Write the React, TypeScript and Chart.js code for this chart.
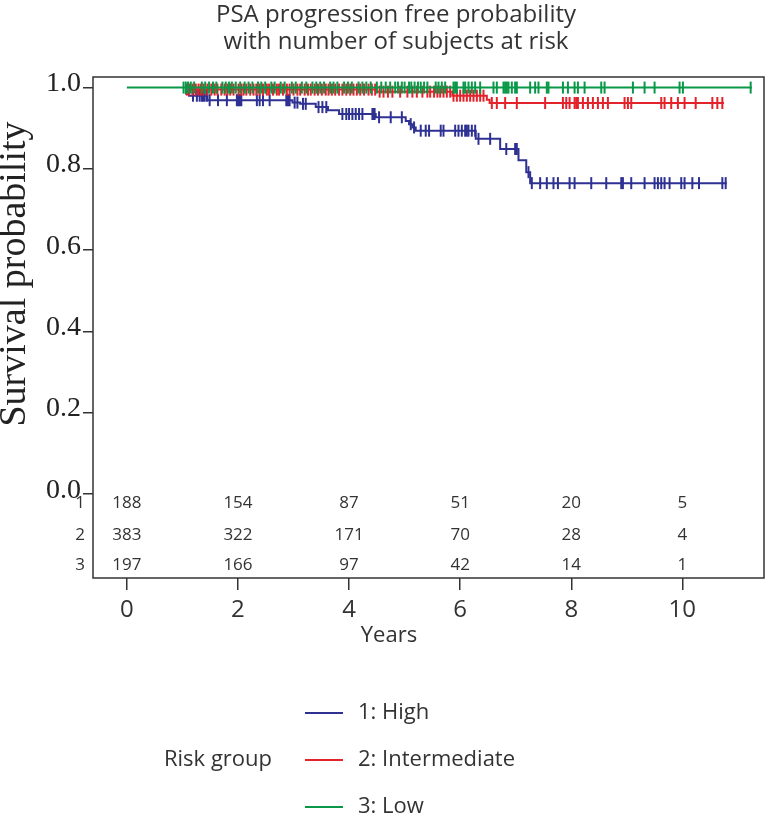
import React, { useEffect, useRef } from "react";
import { Chart, registerables } from "chart.js";

Chart.register(...registerables);

const titleLines = ["PSA progression free probability", "with number of subjects at risk"];
const yAxisTitle = "Survival probability";
const xAxisTitle = "Years";
const legendTitle = "Risk group";
const groupNames = ["1: High", "2: Intermediate", "3: Low"];
const groupRowLabels = ["1", "2", "3"];
const groupColors = ["#2e3192", "#e3232b", "#089848"];

const xTickValues = [0, 2, 4, 6, 8, 10];
const yTickValues = [0, 0.2, 0.4, 0.6, 0.8, 1.0];

// numbers at risk
const atRiskTimes = [0, 2, 4, 6, 8, 10];
const atRiskHigh = [188, 154, 87, 51, 20, 5];
const atRiskIntermediate = [383, 322, 171, 70, 28, 4];
const atRiskLow = [197, 166, 97, 42, 14, 1];

// Kaplan-Meier steps (time, survival after the step)
const highTimes = [0, 1.05, 1.12, 1.45, 2.98, 3.12, 3.40, 3.62, 3.82, 4.48, 5.02, 5.08, 5.14, 5.20, 6.28, 6.72, 7.05, 7.19, 7.26, 10.80];
const highSurv = [1, 0.985, 0.98, 0.969, 0.963, 0.96, 0.952, 0.944, 0.935, 0.927, 0.918, 0.91, 0.902, 0.894, 0.874, 0.849, 0.821, 0.792, 0.765, 0.765];
const intermediateTimes = [0, 1.05, 4.5, 5.86, 6.48, 6.53, 10.75];
const intermediateSurv = [1, 0.995, 0.99, 0.98, 0.97, 0.962, 0.962];
const lowTimes = [0, 11.25];
const lowSurv = [1, 1];

// censoring times
const highCensor = [1.19, 1.26, 1.31, 1.35, 1.37, 1.40, 1.44, 1.49, 1.64, 1.80, 1.98, 2.00, 2.02, 2.04, 2.06, 2.34, 2.39, 2.45, 2.57, 2.87, 2.89, 2.91, 2.93, 3.02, 3.07, 3.17, 3.22, 3.45, 3.52, 3.59, 3.88, 3.95, 4.00, 4.06, 4.12, 4.18, 4.24, 4.42, 4.44, 4.46, 4.54, 4.75, 4.95, 5.11, 5.17, 5.29, 5.38, 5.44, 5.65, 5.70, 5.91, 5.97, 6.03, 6.09, 6.12, 6.15, 6.21, 6.27, 6.33, 6.54, 6.83, 6.99, 7.02, 7.23, 7.29, 7.44, 7.56, 7.68, 7.76, 7.97, 8.06, 8.36, 8.63, 8.90, 8.93, 9.08, 9.32, 9.50, 9.56, 9.62, 9.68, 9.77, 9.98, 10.04, 10.18, 10.30, 10.72, 10.78];
const intermediateCensor = [1.08, 1.12, 1.18, 1.24, 1.29, 1.33, 1.38, 1.45, 1.52, 1.58, 1.63, 1.70, 1.76, 1.81, 1.86, 1.92, 2.01, 2.06, 2.10, 2.15, 2.22, 2.28, 2.33, 2.39, 2.45, 2.52, 2.56, 2.63, 2.70, 2.74, 2.81, 2.88, 2.93, 3.00, 3.07, 3.12, 3.20, 3.26, 3.31, 3.38, 3.44, 3.51, 3.58, 3.63, 3.69, 3.75, 3.82, 3.88, 3.95, 4.02, 4.08, 4.14, 4.20, 4.27, 4.35, 4.41, 4.47, 4.55, 4.62, 4.70, 4.78, 4.92, 5.05, 5.14, 5.22, 5.32, 5.41, 5.46, 5.53, 5.59, 5.64, 5.70, 5.76, 5.82, 5.88, 5.94, 6.00, 6.06, 6.12, 6.18, 6.24, 6.30, 6.36, 6.42, 6.57, 6.66, 6.81, 7.02, 7.53, 7.85, 7.91, 7.97, 8.06, 8.09, 8.12, 8.21, 8.30, 8.39, 8.48, 8.57, 8.66, 8.96, 9.02, 9.08, 9.62, 9.68, 9.80, 9.92, 10.04, 10.24, 10.54, 10.63, 10.72];
const lowCensor = [1.02, 1.06, 1.10, 1.15, 1.21, 1.35, 1.41, 1.48, 1.55, 1.61, 1.72, 1.78, 1.84, 1.89, 1.96, 2.04, 2.12, 2.19, 2.26, 2.36, 2.42, 2.49, 2.60, 2.66, 2.77, 2.84, 2.97, 3.04, 3.15, 3.23, 3.34, 3.41, 3.48, 3.55, 3.66, 3.72, 3.79, 3.91, 3.98, 4.05, 4.17, 4.24, 4.31, 4.39, 4.50, 4.58, 4.66, 4.74, 4.83, 4.88, 4.95, 5.00, 5.08, 5.12, 5.18, 5.24, 5.29, 5.35, 5.41, 5.56, 5.61, 5.67, 5.73, 5.88, 5.91, 5.94, 6.06, 6.09, 6.15, 6.21, 6.27, 6.36, 6.60, 6.66, 6.78, 6.81, 6.84, 6.87, 6.93, 6.99, 7.02, 7.26, 7.35, 7.41, 7.56, 7.59, 7.85, 7.94, 8.06, 8.12, 8.24, 8.54, 8.60, 9.11, 9.32, 9.50, 9.95, 10.01, 11.23];

// row positions of the at-risk table, in y-axis units
const atRiskRowPos = [-0.022, -0.1, -0.174];

function survAt(times: number[], surv: number[], t: number) {
  let v = surv[0];
  for (let i = 0; i < times.length; i++) if (times[i] <= t) v = surv[i];
  return v;
}

const groups = [
  { times: highTimes, surv: highSurv, censor: highCensor, atRisk: atRiskHigh },
  { times: intermediateTimes, surv: intermediateSurv, censor: intermediateCensor, atRisk: atRiskIntermediate },
  { times: lowTimes, surv: lowSurv, censor: lowCensor, atRisk: atRiskLow },
];

const SANS = '"Open Sans", "Noto Sans", sans-serif';
const SERIF = '"Liberation Serif", "DejaVu Serif", serif';

const overlay = {
  id: "overlay",
  afterDraw(chart: any) {
    const { ctx, chartArea: a, scales } = chart;
    const xs = scales.x;
    const ys = scales.y;
    ctx.save();
    // frame
    ctx.strokeStyle = "#333";
    ctx.lineWidth = 1.5;
    ctx.strokeRect(a.left, a.top, a.right - a.left, a.bottom - a.top);

    // title
    ctx.fillStyle = "#333";
    ctx.font = `24px ${SANS}`;
    ctx.textAlign = "center";
    ctx.textBaseline = "middle";
    titleLines.forEach((l, i) => ctx.fillText(l, 396, 15 + i * 27));

    // x title
    ctx.font = `22px ${SANS}`;
    ctx.fillText(xAxisTitle, 389, 636);

    // y title
    ctx.save();
    ctx.translate(15, 274);
    ctx.rotate(-Math.PI / 2);
    ctx.font = `38px ${SERIF}`;
    ctx.fillStyle = "#222";
    ctx.fillText(yAxisTitle, 0, 0);
    ctx.restore();

    // at risk table
    ctx.font = `17px ${SANS}`;
    ctx.fillStyle = "#333";
    groups.forEach((g, r) => {
      const yy = ys.getPixelForValue(atRiskRowPos[r]);
      ctx.textAlign = "center";
      g.atRisk.forEach((n, i) => ctx.fillText(String(n), xs.getPixelForValue(atRiskTimes[i]), yy));
      ctx.textAlign = "right";
      ctx.fillText(groupRowLabels[r], a.left - 8, yy);
    });

    // legend
    ctx.font = `22px ${SANS}`;
    ctx.textAlign = "left";
    groupNames.forEach((name, i) => {
      const yy = 713 + i * 47;
      ctx.strokeStyle = groupColors[i];
      ctx.lineWidth = 2;
      ctx.beginPath();
      ctx.moveTo(305, yy);
      ctx.lineTo(343, yy);
      ctx.stroke();
      ctx.fillStyle = "#333";
      ctx.fillText(name, 358, yy);
    });
    ctx.textAlign = "right";
    ctx.fillText(legendTitle, 272, 760);
    ctx.restore();
  },
};

export default function App() {
  const ref = useRef<HTMLCanvasElement | null>(null);
  useEffect(() => {
    if (!ref.current) return;
    const datasets: any[] = [];
    groups.forEach((g, i) => {
      const order = 2 - i;
      const hideLead = i < 2;
      datasets.push({
        label: groupNames[i],
        data: g.times.map((t, k) => ({ x: t, y: g.surv[k] })),
        stepped: true,
        borderColor: groupColors[i],
        borderWidth: 2,
        pointRadius: 0,
        fill: false,
        order,
        segment: hideLead
          ? { borderColor: (c: any) => (c.p0DataIndex === 0 ? "rgba(0,0,0,0)" : undefined) }
          : undefined,
      });
      datasets.push({
        label: groupNames[i] + " censored",
        data: g.censor.map((t) => ({ x: t, y: survAt(g.times, g.surv, t) })),
        showLine: false,
        pointStyle: "line",
        rotation: 90,
        pointRadius: 6,
        pointBorderColor: groupColors[i],
        pointBackgroundColor: groupColors[i],
        pointBorderWidth: 2,
        borderColor: groupColors[i],
        order,
      });
    });
    const chart = new Chart(ref.current, {
      type: "line",
      data: { datasets },
      options: {
        animation: false,
        responsive: false,
        devicePixelRatio: 1,
        layout: { padding: { top: 77, right: 5, bottom: 189, left: 0 } },
        plugins: { legend: { display: false }, tooltip: { enabled: false }, title: { display: false } },
        scales: {
          x: {
            type: "linear",
            min: -0.61,
            max: 11.47,
            afterBuildTicks: (s: any) => {
              s.ticks = xTickValues.map((v) => ({ value: v }));
            },
            afterFit: (s: any) => {
              s.height = 50;
            },
            grid: { display: true, drawOnChartArea: false, drawTicks: true, tickLength: 12, color: "#333", lineWidth: 1.5 },
            border: { display: false },
            ticks: { font: { family: SANS, size: 24 }, color: "#333", padding: 6, maxRotation: 0, autoSkip: false },
          },
          y: {
            type: "linear",
            min: -0.206,
            max: 1.026,
            afterBuildTicks: (s: any) => {
              s.ticks = yTickValues.map((v) => ({ value: v }));
            },
            afterFit: (s: any) => {
              s.width = 93;
            },
            grid: { display: true, drawOnChartArea: false, drawTicks: true, tickLength: 10, color: "#333", lineWidth: 1.5 },
            border: { display: false },
            ticks: {
              font: { family: SERIF, size: 28 },
              color: "#222",
              padding: 2,
              labelOffset: -4,
              autoSkip: false,
              callback: (v: any) => Number(v).toFixed(1),
            },
          },
        },
      } as any,
      plugins: [overlay],
    });
    return () => chart.destroy();
  }, []);
  return (
    <div style={{ position: "absolute", left: 0, top: 0, width: 772, height: 817, background: "#fff" }}>
      <canvas ref={ref} width={772} height={817} style={{ width: 772, height: 817, display: "block" }} />
    </div>
  );
}
